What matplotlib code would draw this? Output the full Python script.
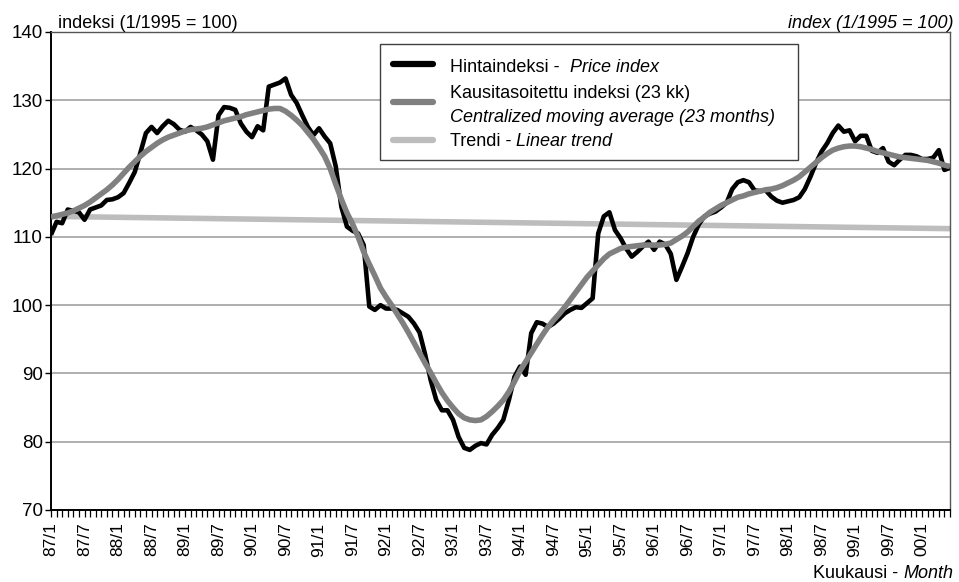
import numpy as np
import matplotlib
matplotlib.use("Agg")
import matplotlib.pyplot as plt
from matplotlib.lines import Line2D
from matplotlib.patches import Rectangle
from matplotlib.text import Annotation
from matplotlib.ticker import MultipleLocator, FixedLocator

plt.rcParams['font.family'] = ['Liberation Sans Narrow', 'Liberation Sans', 'DejaVu Sans']

# ---------------- data (monthly, 87/1 .. 00/6) ----------------
price_index = [
    110.3, 112.2, 112.0, 114.0, 113.8, 113.6, 112.5, 114.0, 114.3, 114.6,
    115.4, 115.5, 115.8, 116.4, 117.9, 119.5, 122.3, 125.2, 126.1, 125.2,
    126.2, 127.0, 126.5, 125.7, 125.4, 126.1, 125.6, 125.0, 124.0, 121.3,
    127.8, 129.0, 128.9, 128.6, 126.6, 125.4, 124.6, 126.2, 125.6, 132.0,
    132.3, 132.6, 133.2, 130.8, 129.6, 127.8, 126.1, 124.9, 125.9, 124.7,
    123.7, 120.3, 114.4, 111.5, 110.9, 110.5, 108.8, 99.8, 99.3, 100.0,
    99.5, 99.5, 99.3, 98.8, 98.3, 97.3, 96.0, 92.8, 89.0, 86.1,
    84.6, 84.6, 83.2, 80.7, 79.1, 78.8, 79.4, 79.8, 79.6, 81.0,
    82.0, 83.2, 86.1, 89.5, 91.0, 89.8, 95.9, 97.5, 97.3, 96.8,
    97.3, 98.0, 98.8, 99.3, 99.7, 99.6, 100.3, 101.0, 110.5, 113.0,
    113.6, 111.0, 109.8, 108.3, 107.1, 107.8, 108.6, 109.3, 108.1, 109.3,
    108.9, 107.5, 103.7, 105.6, 107.6, 110.0, 111.8, 113.0, 113.4, 113.7,
    114.3, 115.0, 117.0, 118.0, 118.3, 118.0, 116.8, 116.7, 116.8, 115.9,
    115.3, 115.0, 115.2, 115.4, 115.8, 117.0, 118.8, 120.8, 122.5, 123.7,
    125.2, 126.3, 125.4, 125.6, 124.0, 124.8, 124.8, 122.6, 122.3, 123.0,
    121.0, 120.5, 121.3, 122.0, 122.0, 121.8, 121.4, 121.4, 121.6, 122.7,
    119.8, 120.1,
]

moving_average = [
    112.9, 113.1, 113.3, 113.5, 113.8, 114.2, 114.6, 115.1, 115.7, 116.3,
    116.9, 117.6, 118.4, 119.3, 120.2, 121.0, 121.8, 122.5, 123.1, 123.7,
    124.2, 124.6, 124.9, 125.2, 125.5, 125.7, 125.8, 125.9, 126.1, 126.4,
    126.7, 127.0, 127.2, 127.4, 127.6, 127.9, 128.1, 128.3, 128.5, 128.7,
    128.8, 128.8, 128.4, 127.8, 127.1, 126.3, 125.3, 124.3, 123.1, 121.8,
    120.0, 117.7, 115.5, 113.5, 111.9, 110.0, 107.8, 106.0, 104.3, 102.5,
    101.2, 100.0, 98.7, 97.4, 96.0, 94.5, 93.0, 91.5, 90.1, 88.6,
    87.2, 86.0, 85.0, 84.1, 83.5, 83.2, 83.1, 83.2, 83.7, 84.4,
    85.2, 86.1, 87.3, 88.8, 90.4, 91.7, 93.0, 94.3, 95.6, 96.8,
    97.8, 98.7, 99.7, 100.8, 101.9, 103.0, 104.1, 105.0, 105.9, 106.8,
    107.5, 107.9, 108.3, 108.5, 108.6, 108.7, 108.8, 108.8, 108.8, 108.8,
    108.9, 109.1, 109.6, 110.1, 110.7, 111.5, 112.3, 112.9, 113.6, 114.1,
    114.6, 115.0, 115.4, 115.8, 116.0, 116.3, 116.5, 116.7, 116.9, 117.0,
    117.2, 117.5, 117.9, 118.3, 118.8, 119.5, 120.2, 120.9, 121.6, 122.2,
    122.7, 123.0, 123.2, 123.3, 123.3, 123.2, 123.0, 122.8, 122.5, 122.3,
    122.1, 121.9, 121.7, 121.6, 121.5, 121.4, 121.3, 121.2, 121.0, 120.8,
    120.5, 120.3,
]

trend_ends = [113.0, 111.2]   # linear trend at first and last month

tick_labels = ["87/1", "87/7", "88/1", "88/7", "89/1", "89/7", "90/1", "90/7",
               "91/1", "91/7", "92/1", "92/7", "93/1", "93/7", "94/1", "94/7",
               "95/1", "95/7", "96/1", "96/7", "97/1", "97/7", "98/1", "98/7",
               "99/1", "99/7", "00/1"]

y_ticks = [70, 80, 90, 100, 110, 120, 130, 140]

# ---------------- figure ----------------
W, H = 959, 582
fig = plt.figure(figsize=(W / 100, H / 100), dpi=100)

def px(x, y):
    return (x / W, 1 - y / H)

ax = fig.add_axes([51 / W, 1 - 510 / H, 899 / W, 478 / H])

n = len(price_index)
x = np.arange(n)

C_BLACK, C_MA, C_TREND = 'black', '#808080', '#bdbdbd'

ax.plot([x[0], x[-1]], trend_ends, color=C_TREND, lw=4.0, zorder=2,
        solid_capstyle='butt')
ax.plot(x, price_index, color=C_BLACK, lw=3.3, zorder=3,
        solid_joinstyle='round', solid_capstyle='butt')
ax.plot(x, moving_average, color=C_MA, lw=4.0, zorder=4,
        solid_joinstyle='round', solid_capstyle='butt')

ax.set_xlim(0, n - 1)
ax.set_ylim(70, 140)
ax.set_yticks(y_ticks)
ax.set_yticklabels([str(v) for v in y_ticks])
ax.xaxis.set_major_locator(FixedLocator(np.arange(len(tick_labels)) * 6))
ax.set_xticklabels(tick_labels, rotation=90)
ax.xaxis.set_minor_locator(MultipleLocator(1))

ax.yaxis.grid(True, color='#a8a8a8', lw=1.3)
ax.set_axisbelow(True)

for s in ['left', 'bottom']:
    ax.spines[s].set_color('black')
    ax.spines[s].set_linewidth(1.4)
for s in ['top', 'right']:
    ax.spines[s].set_color('#555555')
    ax.spines[s].set_linewidth(1.0)

ax.tick_params(axis='y', which='major', direction='out', length=4, width=1,
               labelsize=13.5, pad=2)
ax.tick_params(axis='x', which='both', direction='out', length=5, width=0.9,
               labelsize=12.5, pad=4)

# ---------------- texts ----------------
FS = 13

def chained(ref, text, xy, ha, **kw):
    a = Annotation(text, xy=xy, xycoords=ref, ha=ha, va='bottom',
                   fontsize=FS, annotation_clip=False, **kw)
    fig.add_artist(a)
    return a

fig.text(*px(58, 23), "indeksi (1/1995 = 100)", ha='left', va='center',
         fontsize=FS)
fig.text(*px(953, 23), "index (1/1995 = 100)", ha='right', va='center',
         fontsize=FS, style='italic')
t_month = fig.text(*px(953, 573), "Month", ha='right', va='center',
                   fontsize=FS, style='italic')
chained(t_month, "Kuukausi - ", (0, 0), 'right')

# ---------------- legend (manual) ----------------
fig.add_artist(Rectangle(px(380, 160), 418 / W, 116 / H,
                         transform=fig.transFigure, fc='white',
                         ec='#404040', lw=1.0, zorder=5))

def handle(y, color):
    fig.add_artist(Line2D([393 / W, 433 / W], [1 - y / H, 1 - y / H],
                          transform=fig.transFigure, color=color, lw=4.5,
                          solid_capstyle='round', zorder=6))

handle(64, C_BLACK)
handle(102, C_MA)
handle(140, C_TREND)

t1 = fig.text(*px(450, 67), "Hintaindeksi -  ", ha='left', va='center',
              fontsize=FS, zorder=6)
chained(t1, "Price index", (1, 0), 'left', style='italic', zorder=7)
fig.text(*px(450, 93), "Kausitasoitettu indeksi (23 kk)", ha='left',
         va='center', fontsize=FS, zorder=6)
fig.text(*px(450, 118), "Centralized moving average (23 months)", ha='left',
         va='center', fontsize=FS, style='italic', zorder=6)
t3 = fig.text(*px(450, 142), "Trendi - ", ha='left', va='center',
              fontsize=FS, zorder=6)
chained(t3, "Linear trend", (1, 0), 'left', style='italic', zorder=7)

fig.savefig("out.png", dpi=100)
